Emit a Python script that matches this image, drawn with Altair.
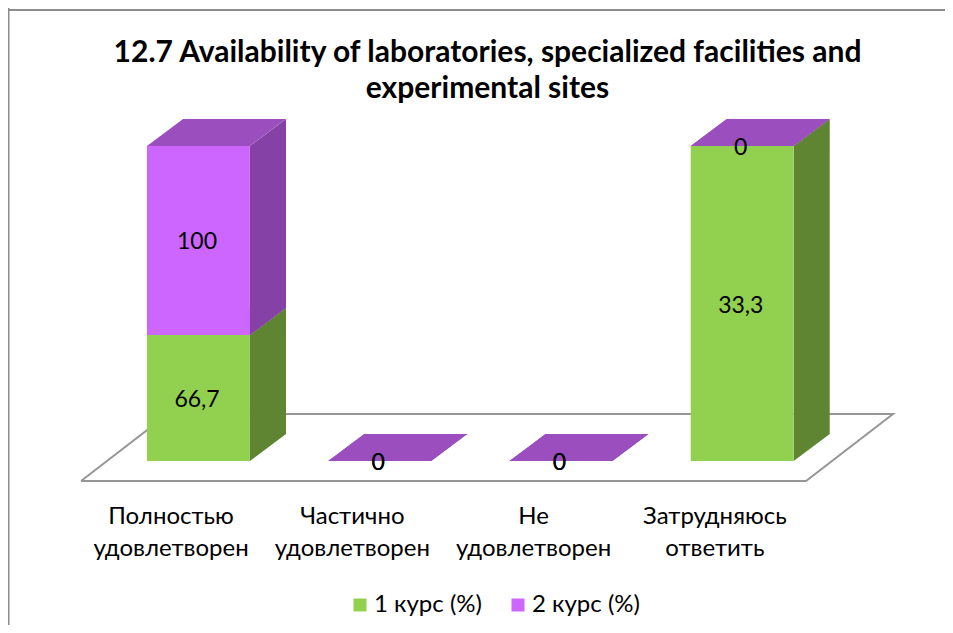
import altair as alt
import pandas as pd

categories = ["Полностью удовлетворен", "Частично удовлетворен", "Не удовлетворен", "Затрудняюсь ответить"]
tick_lines = [["Полностью", "удовлетворен"], ["Частично", "удовлетворен"], ["Не", "удовлетворен"], ["Затрудняюсь", "ответить"]]
series_names = ["1 курс (%)", "2 курс (%)"]
course_1 = [66.7, 0, 0, 33.3]
course_2 = [100, 0, 0, 0]

FONT = "Lato"
W, H = 937, 617
# geometry in data units (category width = 1, value axis = percent of the stack)
BAR_SHIFT = 0.648
BAR_HALF = 0.284
DEPTH_X = 0.199
DEPTH_Y = 8.6
FLOOR_FRONT = -6.35
FLOOR_BACK = 14.9
FLOOR_DX = 0.48

front, side, top, labels = [], [], [], []
for i, cat in enumerate(categories):
    total = course_1[i] + course_2[i]
    base = 0.0
    for s, vals in enumerate([course_1, course_2]):
        v = vals[i]
        share = v / total * 100 if total else 0.0
        y0, y1 = base, base + share
        L, R = i + BAR_SHIFT - BAR_HALF, i + BAR_SHIFT + BAR_HALF
        front.append(dict(series=series_names[s], L=L, R=R, y0=y0, y1=y1, s=s))
        sid = f"{i}-{s}"
        side += [dict(seg=sid, s=s, x=R, y=y0, y2=y1),
                 dict(seg=sid, s=s, x=R + DEPTH_X, y=y0 + DEPTH_Y, y2=y1 + DEPTH_Y)]
        top += [dict(seg=sid, s=s, x=L, y=y1, y2=y1),
                dict(seg=sid, s=s, x=L + DEPTH_X, y=y1, y2=y1 + DEPTH_Y),
                dict(seg=sid, s=s, x=R, y=y1, y2=y1 + DEPTH_Y),
                dict(seg=sid, s=s, x=R + DEPTH_X, y=y1 + DEPTH_Y, y2=y1 + DEPTH_Y)]
        labels.append(dict(x=i + BAR_SHIFT - 0.008, y=(y0 + y1) / 2, text=f"{v:g}".replace(".", ",")))
        base = y1

front = pd.DataFrame(front)
side = pd.DataFrame(side)
top = pd.DataFrame(top)
labels = pd.DataFrame(labels)
n = len(categories)
floor = pd.DataFrame([
    dict(o=0, x=0, y=FLOOR_FRONT), dict(o=1, x=n, y=FLOOR_FRONT),
    dict(o=2, x=n + FLOOR_DX, y=FLOOR_BACK), dict(o=3, x=FLOOR_DX, y=FLOOR_BACK),
    dict(o=4, x=0, y=FLOOR_FRONT)])

xs = alt.Scale(domain=[(8 - 81) / 181.25, (8 + W - 81) / 181.25], nice=False, zero=False)
ys = alt.Scale(domain=[(461 - (8 + H)) / 3.15, (461 - 8) / 3.15], nice=False, zero=False)
x_axis = alt.Axis(
    values=[k + 0.5 for k in range(n)], title=None, domain=False, ticks=False, grid=False,
    labelExpr="[" + ",".join("['%s','%s']" % tuple(t) for t in tick_lines) + "][floor(datum.value)]",
    labelFont=FONT, labelFontSize=24, labelColor="#000000", labelLineHeight=32, labelOffset=-1,
    labelPadding=0, offset=-121, labelOverlap=False, labelAngle=0, labelLimit=300, labelBaseline="top")
X = alt.X("x:Q", scale=xs, axis=x_axis)
Y = alt.Y("y:Q", scale=ys, axis=None)

floor_layer = alt.Chart(floor).mark_line(color="#969696", strokeWidth=2, strokeJoin="miter").encode(
    x=X, y=Y, order="o:Q")


def faces(df, s, color):
    return alt.Chart(df[df.s == s]).mark_area(color=color, interpolate="linear").encode(
        x=X, y=Y, y2="y2:Q", detail="seg:N")


bars = alt.Chart(front).mark_bar().encode(
    x=alt.X("L:Q", scale=xs, axis=x_axis), x2="R:Q",
    y=alt.Y("y0:Q", scale=ys, axis=None), y2="y1:Q",
    color=alt.Color("series:N", scale=alt.Scale(domain=series_names, range=["#92D050", "#CC66FF"]),
                    legend=alt.Legend(title=None, orient="none", legendX=340, legendY=585, direction="horizontal",
                                      symbolType="square", symbolSize=169, symbolStrokeWidth=0,
                                      labelFont=FONT, labelFontSize=24, labelColor="#000000",
                                      columnPadding=24, labelOffset=2, labelLimit=300)))

text = alt.Chart(labels).mark_text(font=FONT, fontSize=23, dy=2, color="#000000", baseline="middle", align="center").encode(
    x=X, y=Y, text="text:N")

frame_left = alt.Chart(pd.DataFrame({"k": [0]})).mark_rule(color="#8C8C8C", strokeWidth=3).encode(
    x=alt.value(0), y=alt.value(0), y2=alt.value(H))
frame_top = alt.Chart(pd.DataFrame({"k": [0]})).mark_rule(color="#8C8C8C", strokeWidth=2).encode(
    x=alt.value(0), x2=alt.value(W), y=alt.value(2))

chart = alt.layer(
    frame_left, frame_top, floor_layer,
    faces(side, 0, "#5F8533"), faces(top, 0, "#9B4FBF"),
    faces(side, 1, "#8541A6"), faces(top, 1, "#9B4FBF"),
    bars, text,
).properties(
    width=W, height=H,
    title=alt.TitleParams(
        ["12.7 Availability of laboratories, specialized facilities and", "experimental sites"],
        font=FONT, fontSize=30, fontWeight="bold", color="#000000", anchor="start", align="center",
        dx=481, offset=-97, lineHeight=36),
    padding=0,
    autosize=alt.AutoSizeParams(type="none"),
    background="#FFFFFF",
).configure_view(stroke=None)

chart.save("out.html", embed_options={"renderer": "svg", "actions": False})
